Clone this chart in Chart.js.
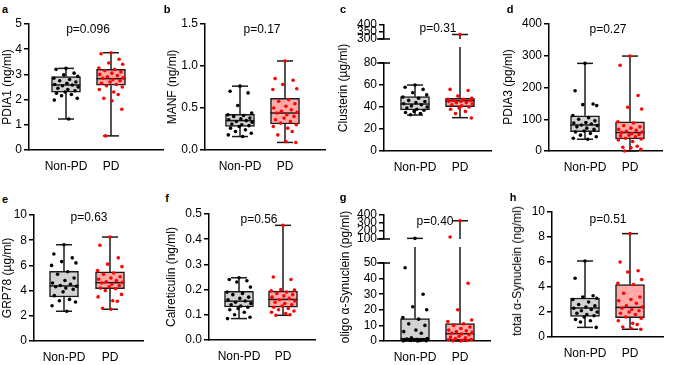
<!DOCTYPE html>
<html><head><meta charset="utf-8">
<script src="https://cdn.jsdelivr.net/npm/chart.js@4.4.0/dist/chart.umd.min.js"></script>
<style>
html,body{margin:0;padding:0;background:#fff;}
body{width:677px;height:365px;position:relative;overflow:hidden;font-family:"Liberation Sans",Arial,sans-serif;color:#000;}
canvas{position:absolute;}
.t{position:absolute;white-space:nowrap;transform:translate(-50%,-50%);font-size:12px;line-height:12px;}
.yt{position:absolute;white-space:nowrap;transform:translate(-50%,-50%) rotate(-90deg);font-size:12px;line-height:12px;}
.l{position:absolute;white-space:nowrap;transform:translate(-50%,-50%);font-size:11px;font-weight:bold;line-height:11px;}
</style></head>
<body>
<script>
// ---------------- DATA ----------------
const groups = ['Non-PD', 'PD'];
// box stats: [min, q1, median, q3, max]

// a: PDIA1 (ng/ml)
const pdia1Ticks = ['0','1','2','3','4','5'];
const pdia1BoxNonPD = [1.23, 2.29, 2.58, 2.91, 3.24];
const pdia1BoxPD = [0.56, 2.57, 2.83, 3.20, 3.86];
const pdia1NonPD = [3.24,3.2,3.05,2.98,2.92,2.85,2.8,2.75,2.7,2.65,2.6,2.58,2.55,2.5,2.45,2.4,2.35,2.3,2.25,2.2,2.15,2.05,1.98,1.23];
const pdia1PD = [3.86,3.82,3.6,3.45,3.4,3.25,3.2,3.15,3.1,3.05,3.0,2.95,2.9,2.87,2.85,2.8,2.75,2.7,2.65,2.6,2.55,2.5,2.4,2.3,2.2,2.05,1.95,1.62,0.56];

// b: MANF (ng/ml)
const manfTicks = ['0.0','0.5','1.0','1.5'];
const manfBoxNonPD = [0.16, 0.28, 0.35, 0.425, 0.76];
const manfBoxPD = [0.09, 0.31, 0.44, 0.615, 1.06];
const manfNonPD = [0.76,0.70,0.68,0.53,0.44,0.42,0.41,0.40,0.38,0.37,0.36,0.35,0.34,0.33,0.31,0.30,0.29,0.28,0.26,0.24,0.22,0.20,0.18,0.16];
const manfPD = [1.06,0.85,0.83,0.78,0.73,0.72,0.60,0.58,0.55,0.52,0.50,0.48,0.46,0.45,0.44,0.42,0.40,0.38,0.36,0.34,0.32,0.30,0.28,0.26,0.22,0.18,0.10,0.09];

// c: Clusterin (µg/ml), broken axis
const clusterinTicksUpper = ['300','350','400'];
const clusterinTicksLower = ['0','20','40','60','80'];
const clusterinBoxNonPD = [32.7, 37.3, 42.7, 49.4, 60];
const clusterinBoxPD = [30.3, 40.3, 45.7, 47.9, 332];
const clusterinNonPD = [60,58,56,53,51,49,48,46,45,44,43,42,41,40,39,38,37,36,35,34,33];
const clusterinPD = [332,56,55,50,48,47,47,46,46,45,45,44,44,43,42,41,40,39,38,36,34,30];

// d: PDIA3 (pg/ml)
const pdia3Ticks = ['0','100','200','300','400'];
const pdia3BoxNonPD = [37, 61, 82, 111, 276];
const pdia3BoxPD = [0, 38, 58, 92, 299];
const pdia3NonPD = [276,190,148,146,143,112,105,100,95,90,88,85,82,80,76,72,68,63,60,55,50,45,40,37];
const pdia3PD = [299,270,175,138,132,92,88,80,76,72,68,65,62,60,58,55,52,50,48,45,40,38,35,30,15,12,10,5,0];

// e: GRP78 (µg/ml)
const grp78Ticks = ['0','2','4','6','8','10'];
const grp78BoxNonPD = [2.36, 3.49, 4.37, 5.53, 7.64];
const grp78BoxPD = [2.52, 4.15, 4.63, 5.48, 8.25];
const grp78NonPD = [7.64,6.9,6.6,6.3,6.2,6.0,5.5,5.3,5.0,4.8,4.6,4.5,4.4,4.35,4.3,4.2,4.1,3.9,3.6,3.3,3.2,3.1,2.8,2.36];
const grp78PD = [8.25,7.6,6.6,6.1,5.9,5.6,5.4,5.3,5.1,5.0,4.9,4.8,4.7,4.65,4.6,4.5,4.4,4.3,4.2,4.15,4.0,3.7,3.5,3.2,3.15,2.6,2.52];

// f: Calreticulin (ng/ml)
const calrTicks = ['0.0','0.1','0.2','0.3','0.4','0.5'];
const calrBoxNonPD = [0.085, 0.131, 0.154, 0.193, 0.247];
const calrBoxPD = [0.098, 0.130, 0.161, 0.194, 0.455];
const calrNonPD = [0.247,0.24,0.235,0.23,0.21,0.19,0.185,0.18,0.17,0.165,0.16,0.155,0.15,0.145,0.14,0.135,0.13,0.125,0.12,0.11,0.10,0.09,0.085];
const calrPD = [0.455,0.25,0.24,0.20,0.198,0.195,0.19,0.185,0.18,0.175,0.17,0.165,0.16,0.155,0.15,0.145,0.14,0.135,0.13,0.125,0.12,0.115,0.11,0.105,0.10,0.098];

// g: oligo α-Synuclein (pg/ml), broken axis
const oligoTicksUpper = ['100','200','300','400'];
const oligoTicksLower = ['0','10','20','30','40','50'];
const oligoBoxNonPD = [0, 0.5, 1.5, 14.3, 108];
const oligoBoxPD = [0, 0.6, 4.7, 11.1, 328];
const oligoNonPD = [108,47,30,22,20,15,14,11,10,7,6,5,2,1.5,1.2,1,0.8,0.6,0.5,0.4,0.3,0.2,0.1,0];
const oligoPD = [328,125,37,20,13.5,12.5,11,10,9,8,7,6.5,6,5.5,5,4.5,4,3,2.5,2,1.5,1,0.8,0.5,0.3,0.1,0];

// h: total α-Synuclein (ng/ml)
const totalTicks = ['0','2','4','6','8','10'];
const totalBoxNonPD = [0.77, 1.65, 2.32, 3.12, 6.08];
const totalBoxPD = [0.62, 1.55, 2.37, 4.19, 8.27];
const totalNonPD = [6.08,4.7,3.3,3.2,3.1,3.0,2.8,2.6,2.5,2.4,2.3,2.2,2.1,2.0,1.9,1.8,1.7,1.6,1.4,1.3,1.2,0.77];
const totalPD = [8.27,6.0,5.3,5.2,4.6,4.3,4.2,3.5,3.2,3.0,2.9,2.7,2.5,2.4,2.3,2.2,2.1,2.0,1.9,1.8,1.6,1.5,1.3,1.1,1.0,0.8,0.7,0.62];

const pValues = ['p=0.096','p=0.17','p=0.31','p=0.27','p=0.63','p=0.56','p=0.40','p=0.51'];
const yTitles = ['PDIA1 (ng/ml)','MANF (ng/ml)','Clusterin (µg/ml)','PDIA3 (pg/ml)','GRP78 (µg/ml)','Calreticulin (ng/ml)','oligo α-Synuclein (pg/ml)','total α-Synuclein (ng/ml)'];
const letters = ['a','b','c','d','e','f','g','h'];

// ---------------- STYLE / LAYOUT ----------------
const FONT = '"Liberation Sans", Arial, sans-serif';
Chart.defaults.font.family = FONT;
Chart.defaults.font.size = 12;
Chart.defaults.color = '#000';
const GRAY = '#d2d2d2', PINK = '#ffa9a9', EDGE = '#1a1a1a';
const DOT = ['#000000', '#ff0000'];
const jitter = [0,-0.22,0.18,-0.05,0.26,-0.27,0.08,-0.14,0.22,0.02,-0.25,0.14,-0.08,0.27,-0.18,0.04,0.2,-0.02,-0.21,0.12,-0.1,0.25,-0.26,0.06,0.16,-0.16,0.02,0.24,-0.12,0.1];

function buildChart(L, D) {
  const cv = document.createElement('canvas');
  cv.width = L.cw; cv.height = L.ch;
  cv.style.left = L.cx + 'px'; cv.style.top = L.cy + 'px';
  cv.style.width = L.cw + 'px'; cv.style.height = L.ch + 'px';
  document.body.appendChild(cv);
  const U = L.c1 - L.c0;
  const xmin = -(L.c0 - L.ax) / U, xmax = (L.ar - L.c0) / U;
  const ymin = Number(D.ticks[0]), ymax = Number(D.ticks[D.ticks.length - 1]);
  const extTop = L.extTop || 0;
  const datasets = [];
  if (D.drawBox) {
    datasets.push({type: 'bar', data: D.boxes.map((b, i) => ({x: i, y: [b[1], b[3]]})),
      backgroundColor: [GRAY, PINK], borderColor: EDGE, borderWidth: 1.5, borderSkipped: false,
      barThickness: 29, order: 2});
  }
  D.points.forEach((arr, i) => {
    datasets.push({type: 'scatter', order: 0, clip: false,
      data: arr.map((v, k) => ({x: i + jitter[k % jitter.length], y: v})).filter(p => p.y >= ymin && p.y <= ymax),
      pointRadius: 1.8, pointHoverRadius: 1.8, pointBorderWidth: 0, backgroundColor: DOT[i], borderColor: DOT[i]});
  });
  const boxPlugin = {
    id: 'box' + Math.random().toString(36).slice(2),
    beforeDatasetsDraw(chart) {
      const ctx = chart.ctx, ys = chart.scales.y, xs = chart.scales.x, ca = chart.chartArea;
      const yp = v => v > ys.max ? ca.top - extTop : (v < ys.min ? ca.bottom : ys.getPixelForValue(v));
      ctx.save(); ctx.strokeStyle = EDGE; ctx.lineWidth = 1.5;
      D.boxes.forEach((b, i) => {
        const x = xs.getPixelForValue(i);
        [[b[0], b[1]], [b[3], b[4]]].forEach(([lo, hi]) => {
          if (hi < ys.min || lo > ys.max) return;
          ctx.beginPath(); ctx.moveTo(x, yp(lo)); ctx.lineTo(x, yp(hi)); ctx.stroke();
        });
        [b[0], b[4]].forEach(v => {
          if (v < ys.min || v > ys.max) return;
          const y = ys.getPixelForValue(v);
          ctx.beginPath(); ctx.moveTo(x - 8, y); ctx.lineTo(x + 8, y); ctx.stroke();
        });
      });
      ctx.restore();
    },
    afterDatasetDraw(chart, args) {
      if (args.meta.type !== 'bar') return;
      const ctx = chart.ctx, ys = chart.scales.y, xs = chart.scales.x;
      ctx.save(); ctx.strokeStyle = EDGE; ctx.lineWidth = 1.5;
      D.boxes.forEach((b, i) => {
        const x = xs.getPixelForValue(i), y = ys.getPixelForValue(b[2]);
        ctx.beginPath(); ctx.moveTo(x - 14.5, y); ctx.lineTo(x + 14.5, y); ctx.stroke();
      });
      ctx.restore();
    },
    afterDraw(chart) {
      if (!L.breakMark) return;
      const ctx = chart.ctx, ys = chart.scales.y, ca = chart.chartArea;
      const y = L.breakMark === 'top' ? ys.getPixelForValue(ys.max) : ys.getPixelForValue(ys.min);
      ctx.save(); ctx.strokeStyle = '#000'; ctx.lineWidth = 1.5;
      ctx.beginPath(); ctx.moveTo(ca.left - 7, y); ctx.lineTo(ca.left + 6, y); ctx.stroke();
      ctx.restore();
    }
  };
  const showX = !!L.showX;
  return new Chart(cv, {
    type: 'bar',
    data: {datasets},
    plugins: [boxPlugin],
    options: {
      responsive: false, animation: false, devicePixelRatio: 1,
      layout: {padding: {top: L.at - L.cy, right: L.cx + L.cw - L.ar, left: 0, bottom: showX ? 0 : (L.cy + L.ch - L.ab)}},
      plugins: {legend: {display: false}, tooltip: {enabled: false}},
      scales: {
        x: {type: 'linear', display: showX, min: xmin, max: xmax, offset: false,
          afterFit(s) { s.height = L.cy + L.ch - L.ab; },
          afterBuildTicks(s) { s.ticks = groups.map((g, i) => ({value: i})); },
          ticks: {callback: v => groups[v], padding: 9, maxRotation: 0, autoSkip: false, color: '#000', font: {size: 12}},
          grid: {display: false, drawTicks: false, offset: false},
          border: {display: true, color: '#000', width: 1.5}},
        y: {type: 'linear', min: ymin, max: ymax,
          afterFit(s) { s.width = L.ax - L.cx; },
          afterBuildTicks(s) { s.ticks = D.ticks.map(t => ({value: Number(t)})); },
          ticks: {callback: v => D.ticks.find(t => Number(t) === v), padding: 2, autoSkip: false, color: '#000', font: {size: 12}},
          grid: {display: true, drawOnChartArea: false, drawTicks: true, tickLength: 5, color: '#000', lineWidth: 1.5},
          border: {display: true, color: '#000', width: 1.5}}
      }
    }
  });
}

function addText(cls, text, x, y) {
  const d = document.createElement('div');
  d.className = cls; d.textContent = text;
  d.style.left = x + 'px'; d.style.top = y + 'px';
  document.body.appendChild(d);
}

// panel geometry (pixels)
const panels = [
  {L: {cx: 10, cy: 12, cw: 158, ch: 170, ax: 29, ar: 163, at: 24, ab: 150, c0: 66, c1: 111, showX: true},
   D: {ticks: pdia1Ticks, boxes: [pdia1BoxNonPD, pdia1BoxPD], points: [pdia1NonPD, pdia1PD], drawBox: true}},
  {L: {cx: 178, cy: 12, cw: 152, ch: 170, ax: 205, ar: 325, at: 24, ab: 150, c0: 240, c1: 285, showX: true},
   D: {ticks: manfTicks, boxes: [manfBoxNonPD, manfBoxPD], points: [manfNonPD, manfPD], drawBox: true}},
  {L: {cx: 345, cy: 15, cw: 150, ch: 40, ax: 384, ar: 491, at: 25, ab: 47, c0: 415, c1: 460, showX: false, breakMark: 'bottom'},
   D: {ticks: clusterinTicksUpper, boxes: [clusterinBoxNonPD, clusterinBoxPD], points: [clusterinNonPD, clusterinPD], drawBox: false}},
  {L: {cx: 345, cy: 40, cw: 150, ch: 142, ax: 384, ar: 491, at: 63, ab: 151, c0: 415, c1: 460, showX: true, breakMark: 'top', extTop: 16},
   D: {ticks: clusterinTicksLower, boxes: [clusterinBoxNonPD, clusterinBoxPD], points: [clusterinNonPD, clusterinPD], drawBox: true}},
  {L: {cx: 515, cy: 12, cw: 155, ch: 170, ax: 549, ar: 662, at: 24, ab: 151, c0: 585, c1: 630, showX: true},
   D: {ticks: pdia3Ticks, boxes: [pdia3BoxNonPD, pdia3BoxPD], points: [pdia3NonPD, pdia3PD], drawBox: true}},
  {L: {cx: 12, cy: 203, cw: 140, ch: 162, ax: 34, ar: 143, at: 215, ab: 341, c0: 64, c1: 110, showX: true},
   D: {ticks: grp78Ticks, boxes: [grp78BoxNonPD, grp78BoxPD], points: [grp78NonPD, grp78PD], drawBox: true}},
  {L: {cx: 178, cy: 203, cw: 145, ch: 162, ax: 209, ar: 315, at: 214, ab: 340, c0: 239, c1: 283, showX: true},
   D: {ticks: calrTicks, boxes: [calrBoxNonPD, calrBoxPD], points: [calrNonPD, calrPD], drawBox: true}},
  {L: {cx: 345, cy: 205, cw: 150, ch: 50, ax: 384, ar: 490, at: 215, ab: 247, c0: 415, c1: 460, showX: false, breakMark: 'bottom'},
   D: {ticks: oligoTicksUpper, boxes: [oligoBoxNonPD, oligoBoxPD], points: [oligoNonPD, oligoPD], drawBox: false}},
  {L: {cx: 345, cy: 240, cw: 150, ch: 125, ax: 384, ar: 490, at: 263, ab: 341, c0: 415, c1: 460, showX: true, breakMark: 'top', extTop: 16},
   D: {ticks: oligoTicksLower, boxes: [oligoBoxNonPD, oligoBoxPD], points: [oligoNonPD, oligoPD], drawBox: true}},
  {L: {cx: 515, cy: 200, cw: 155, ch: 165, ax: 552, ar: 663, at: 212, ab: 337, c0: 585, c1: 630, showX: true},
   D: {ticks: totalTicks, boxes: [totalBoxNonPD, totalBoxPD], points: [totalNonPD, totalPD], drawBox: true}}
];
panels.forEach(p => buildChart(p.L, p.D));

const letterPos = [[5,9],[167,9],[343,9],[510,9],[5,199],[167,198],[343,197],[513,197]];
const pPos = [[88,29],[262,29],[438,28],[608,29],[89,217],[259,219],[435,221],[608,219]];
const titlePos = [[7,87],[172,87],[343,88],[508,87],[7,278],[171,277],[345,277],[517,271]];
letters.forEach((t, i) => addText('l', t, letterPos[i][0], letterPos[i][1]));
pValues.forEach((t, i) => addText('t', t, pPos[i][0], pPos[i][1]));
yTitles.forEach((t, i) => addText('yt', t, titlePos[i][0], titlePos[i][1]));
</script>
</body></html>
